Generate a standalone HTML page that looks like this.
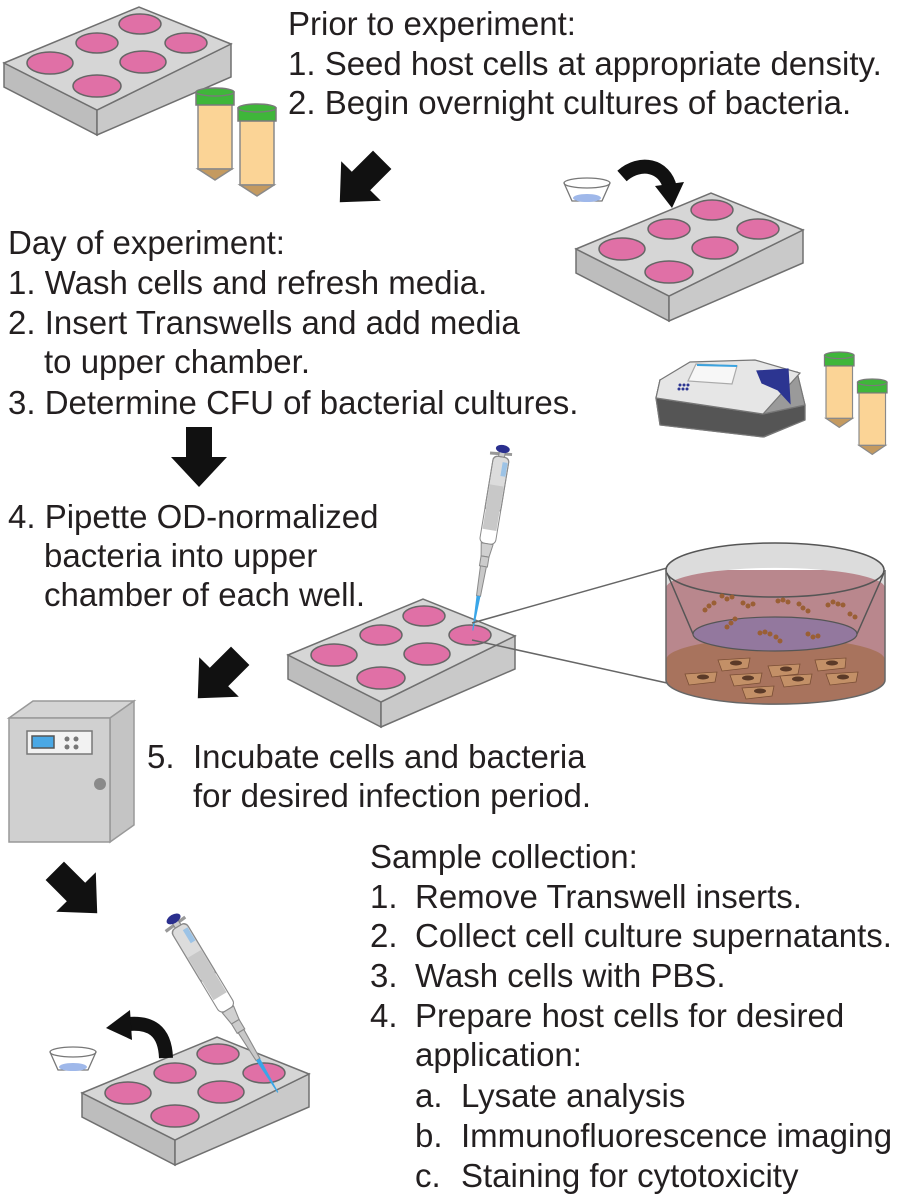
<!DOCTYPE html>
<html><head><meta charset="utf-8"><style>
html,body{margin:0;padding:0;background:#fff}
svg{display:block}
text{font-family:"Liberation Sans",Arial,sans-serif;font-size:33px;fill:#231f20}
</style></head><body>
<svg width="900" height="1200" viewBox="0 0 900 1200" xmlns="http://www.w3.org/2000/svg">
<defs>
<g id="plate">
  <polygon points="4,63 4,87 97,135 97,110" fill="#bdbdbd" stroke="#707070" stroke-width="1.5"/>
  <polygon points="97,110 97,135 231,77 231,44" fill="#c9c9c9" stroke="#707070" stroke-width="1.5"/>
  <polygon points="4,63 139,7 231,44 97,110" fill="#d6d6d6" stroke="#707070" stroke-width="1.5"/>
  <g fill="#e070a6" stroke="#666" stroke-width="1.5">
    <ellipse cx="140" cy="24" rx="21" ry="10"/>
    <ellipse cx="97" cy="43" rx="21" ry="10"/>
    <ellipse cx="186" cy="43" rx="21" ry="10"/>
    <ellipse cx="50" cy="63" rx="23" ry="11"/>
    <ellipse cx="143" cy="62" rx="23" ry="11"/>
    <ellipse cx="97" cy="86" rx="24" ry="11"/>
  </g>
</g>
<g id="tube">
  <rect x="0" y="16" width="34" height="65" fill="#fbd496" stroke="#8a8a8a" stroke-width="1.5"/>
  <polygon points="0,81 34,81 17,92" fill="#c49a60" stroke="#8a8a8a" stroke-width="1.5"/>
  <rect x="-2" y="4" width="38" height="13" fill="#3fb63a" stroke="#7a7a7a" stroke-width="1.5"/>
  <ellipse cx="17" cy="4" rx="19" ry="4" fill="#3fb63a" stroke="#7a7a7a" stroke-width="1.5"/>
</g>
<g id="dish">
  <path d="M-23,0 L-15,18 L15,18 L23,0" fill="#fff" stroke="#777" stroke-width="1.3"/>
  <ellipse cx="0" cy="15" rx="14" ry="4" fill="#9fb8ea"/>
  <ellipse cx="0" cy="0" rx="23" ry="5" fill="none" stroke="#777" stroke-width="1.3"/>
</g>
<polygon id="arrow" points="-13,-30 13,-30 13,0 28,0 0,30 -28,0 -13,0" fill="#111"/>
<g id="pip">
  <line x1="-12" y1="7" x2="10" y2="5" stroke="#999" stroke-width="3"/>
  <rect x="-3" y="2" width="6" height="8" fill="#ccc" stroke="#888"/>
  <ellipse cx="0" cy="1" rx="7" ry="4" fill="#2a2f8e"/>
  <rect x="-8" y="9" width="16" height="55" rx="4" fill="#dcdcdc" stroke="#8a8a8a"/>
  <rect x="-7" y="38" width="14" height="45" fill="#c8c8c8"/>
  <rect x="-8" y="9" width="16" height="88" rx="5" fill="none" stroke="#8a8a8a"/>
  <rect x="2" y="14" width="5" height="14" fill="#9cc3e6"/>
  <polygon points="-6,97 6,97 4,110 -4,110" fill="#d0d0d0" stroke="#8a8a8a"/>
  <rect x="-4" y="110" width="8" height="10" fill="#ccc" stroke="#8a8a8a"/>
  <polygon points="-3,120 3,120 2,150 -2,150" fill="#c8c8c8" stroke="#8a8a8a"/>
  <polygon points="-2,150 2,150 0.5,185 -0.5,185" fill="#3aa6e8"/>
</g>
</defs>

<use href="#plate" x="0" y="0"/>
<use href="#plate" x="572" y="186"/>
<use href="#plate" x="284" y="592"/>
<use href="#plate" x="78" y="1030"/>

<use href="#tube" x="198" y="88"/>
<use href="#tube" x="240" y="104"/>
<g transform="translate(826,352) scale(0.78,0.82)"><use href="#tube"/></g>
<g transform="translate(859,379) scale(0.78,0.82)"><use href="#tube"/></g>

<use href="#dish" x="587" y="183"/>
<use href="#dish" x="73" y="1052"/>

<use href="#arrow" transform="translate(361,181) rotate(45)"/>
<use href="#arrow" transform="translate(199,457)"/>
<use href="#arrow" transform="translate(219,677) rotate(45)"/>
<use href="#arrow" transform="translate(76,892) rotate(-45)"/>

<path d="M622,176 C640,160 665,165 670,188" fill="none" stroke="#111" stroke-width="14"/>
<polygon points="655,186 684,182 672,208" fill="#111"/>
<path d="M166,1058 C165,1030 150,1022 128,1024" fill="none" stroke="#111" stroke-width="14"/>
<polygon points="130,1010 106,1028 132,1040" fill="#111"/>

<g stroke="#777" stroke-width="1.2">
  <polygon points="656,398 660,380 797,372 805,405 805,420 764,437 660,425" fill="#6f6f6f"/>
  <polygon points="656,398 763,414 805,405 805,420 763,437 660,425" fill="#555"/>
  <polygon points="656,398 660,380 797,372 805,405 763,414" fill="#9a9a9a"/>
  <polygon points="660,380 690,362 755,360 800,373 763,414 656,398" fill="#e6e6e6"/>
  <polygon points="696,364 737,366 732,384 688,381" fill="#f7f7f7" stroke="#aaa"/>
  <line x1="697" y1="365" x2="737" y2="366" stroke="#3ba3e0" stroke-width="2"/>
  <polygon points="757,371 788,369 790,403 778,390 762,383" fill="#2c3591" stroke="#2c3591"/>
</g>
<g fill="#2c3591"><circle cx="680" cy="385" r="1.5"/><circle cx="684" cy="385" r="1.5"/><circle cx="688" cy="385" r="1.5"/><circle cx="679" cy="389" r="1.5"/><circle cx="683" cy="389" r="1.5"/><circle cx="687" cy="389" r="1.5"/></g>

<g transform="translate(503,448) rotate(9.4)"><use href="#pip"/></g>
<g transform="translate(173,918) rotate(-31) scale(1.1)"><use href="#pip"/></g>

<line x1="472" y1="623" x2="667" y2="568" stroke="#666" stroke-width="1.5"/>
<line x1="472" y1="640" x2="667" y2="683" stroke="#666" stroke-width="1.5"/>

<g>
  <path d="M666,570 L666,680 A109,24 0 0 0 885,680 L885,570 Z" fill="#b9878d"/>
  <path d="M666,660 A109,22 0 0 1 885,660 L885,680 A109,24 0 0 1 666,680 Z" fill="#a8735d"/>
  <path d="M666,588 A109,20 0 0 1 885,588 L885,570 A109,27 0 0 0 666,570 Z" fill="#dcdcdc"/>
  <ellipse cx="775" cy="634" rx="82" ry="17" fill="#93789e" stroke="#555" stroke-width="1.2"/>
  <line x1="667" y1="573" x2="693" y2="634" stroke="#555" stroke-width="1.5"/>
  <line x1="884" y1="573" x2="857" y2="634" stroke="#555" stroke-width="1.5"/>
  <ellipse cx="775" cy="570" rx="109" ry="27" fill="none" stroke="#555" stroke-width="1.5"/>
  <path d="M666,570 L666,680 A109,24 0 0 0 885,680 L885,570" fill="none" stroke="#666" stroke-width="1.5"/>
  <g fill="#c39067" stroke="#7a4e35" stroke-width="0.8">
    <polygon points="718,660 750,658 748,668 722,671"/>
    <polygon points="768,666 800,664 798,674 772,677"/>
    <polygon points="815,660 846,658 845,668 818,671"/>
    <polygon points="685,674 717,672 715,682 689,685"/>
    <polygon points="730,675 762,673 760,683 734,686"/>
    <polygon points="780,676 812,674 810,684 784,687"/>
    <polygon points="826,674 858,672 856,682 830,685"/>
    <polygon points="742,688 774,686 772,696 746,699"/>
  </g>
  <g fill="#5b3a28"><ellipse cx="736" cy="663" rx="6" ry="2.5"/><ellipse cx="786" cy="669" rx="6" ry="2.5"/><ellipse cx="832" cy="663" rx="6" ry="2.5"/><ellipse cx="703" cy="677" rx="6" ry="2.5"/><ellipse cx="748" cy="678" rx="6" ry="2.5"/><ellipse cx="798" cy="679" rx="6" ry="2.5"/><ellipse cx="843" cy="677" rx="6" ry="2.5"/><ellipse cx="760" cy="691" rx="6" ry="2.5"/></g>
  <g fill="#9a5f35">
    <circle cx="705" cy="610" r="2.5"/><circle cx="709" cy="606" r="2.5"/><circle cx="714" cy="603" r="2.5"/>
    <circle cx="722" cy="596" r="2.5"/><circle cx="727" cy="599" r="2.5"/><circle cx="732" cy="597" r="2.5"/>
    <circle cx="743" cy="603" r="2.5"/><circle cx="748" cy="606" r="2.5"/><circle cx="753" cy="604" r="2.5"/>
    <circle cx="778" cy="601" r="2.5"/><circle cx="783" cy="600" r="2.5"/><circle cx="788" cy="602" r="2.5"/>
    <circle cx="799" cy="604" r="2.5"/><circle cx="803" cy="608" r="2.5"/><circle cx="808" cy="611" r="2.5"/>
    <circle cx="828" cy="605" r="2.5"/><circle cx="833" cy="602" r="2.5"/><circle cx="838" cy="604" r="2.5"/><circle cx="843" cy="605" r="2.5"/>
    <circle cx="850" cy="614" r="2.5"/><circle cx="855" cy="617" r="2.5"/>
    <circle cx="727" cy="627" r="2.5"/><circle cx="731" cy="623" r="2.5"/><circle cx="735" cy="619" r="2.5"/>
    <circle cx="760" cy="633" r="2.5"/><circle cx="765" cy="632" r="2.5"/><circle cx="770" cy="634" r="2.5"/><circle cx="776" cy="637" r="2.5"/><circle cx="780" cy="641" r="2.5"/>
    <circle cx="808" cy="634" r="2.5"/><circle cx="813" cy="637" r="2.5"/><circle cx="818" cy="636" r="2.5"/>
  </g>
</g>

<g stroke="#999" stroke-width="1.5">
  <polygon points="9,718 33,701 134,701 110,718" fill="#d4d4d4"/>
  <polygon points="110,718 134,701 134,825 110,842" fill="#c4c4c4"/>
  <rect x="9" y="718" width="101" height="124" fill="#d0d0d0"/>
  <rect x="27" y="731" width="65" height="23" fill="#f2f2f2" stroke="#777"/>
  <rect x="32" y="736" width="22" height="12" fill="#4aa8e5" stroke="#555"/>
</g>
<g fill="#777"><circle cx="67" cy="739" r="2.5"/><circle cx="76" cy="739" r="2.5"/><circle cx="67" cy="747" r="2.5"/><circle cx="76" cy="747" r="2.5"/><circle cx="100" cy="784" r="6" fill="#8a8a8a"/></g>

<text x="288" y="35">Prior to experiment:</text>
<text x="288" y="75">1. Seed host cells at appropriate density.</text>
<text x="288" y="114">2. Begin overnight cultures of bacteria.</text>

<text x="8" y="254">Day of experiment:</text>
<text x="8" y="294">1. Wash cells and refresh media.</text>
<text x="8" y="334">2. Insert Transwells and add media</text>
<text x="44" y="373">to upper chamber.</text>
<text x="8" y="414">3. Determine CFU of bacterial cultures.</text>

<text x="8" y="528">4. Pipette OD-normalized</text>
<text x="44" y="567">bacteria into upper</text>
<text x="44" y="606">chamber of each well.</text>

<text x="147" y="768">5.</text>
<text x="193" y="768">Incubate cells and bacteria</text>
<text x="193" y="807">for desired infection period.</text>

<text x="370" y="868">Sample collection:</text>
<text x="370" y="908">1.</text><text x="415" y="908">Remove Transwell inserts.</text>
<text x="370" y="947">2.</text><text x="415" y="947">Collect cell culture supernatants.</text>
<text x="370" y="987">3.</text><text x="415" y="987">Wash cells with PBS.</text>
<text x="370" y="1027">4.</text><text x="415" y="1027">Prepare host cells for desired</text>
<text x="415" y="1066">application:</text>
<text x="415" y="1107">a.</text><text x="461" y="1107">Lysate analysis</text>
<text x="415" y="1147">b.</text><text x="461" y="1147">Immunofluorescence imaging</text>
<text x="415" y="1187">c.</text><text x="461" y="1187">Staining for cytotoxicity</text>
</svg>
</body></html>
